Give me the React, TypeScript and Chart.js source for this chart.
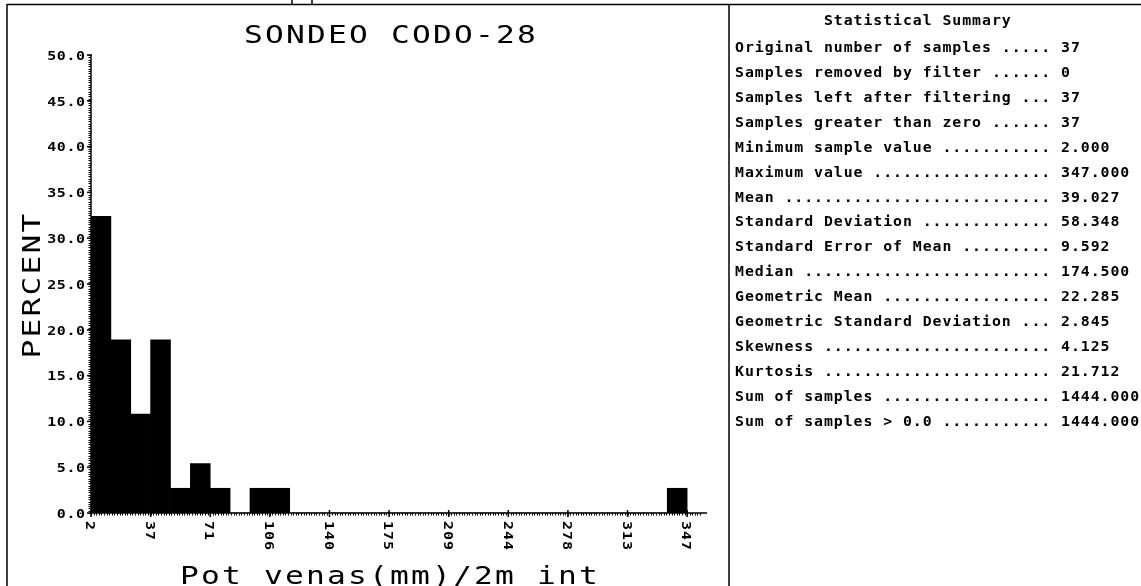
import { useEffect, useRef } from "react";
import { Chart, registerables } from "chart.js";

Chart.register(...registerables);

const MONO = '"DejaVu Sans Mono", "Liberation Mono", monospace';

const TITLE = "SONDEO CODO-28";
const Y_TITLE = "PERCENT";
const X_TITLE = "Pot venas(mm)/2m int";

// Histogram classes: 30 classes of equal width starting at the minimum sample value
const CLASS_START = 2;
const CLASS_WIDTH = 11.5;
const PERCENT = [
  32.4, 18.9, 10.8, 18.9, 2.7, 5.4, 2.7, 0.0, 2.7, 2.7,
  0.0, 0.0, 0.0, 0.0, 0.0, 0.0, 0.0, 0.0, 0.0, 0.0,
  0.0, 0.0, 0.0, 0.0, 0.0, 0.0, 0.0, 0.0, 0.0, 2.7,
];

const X_MIN = 2;
const X_MAX = 358.5;
const Y_MIN = 0;
const Y_MAX = 50;

const X_TICK_VALUES = [2, 36.5, 71, 105.5, 140, 174.5, 209, 243.5, 278, 312.5, 347];
const X_TICK_LABELS = ["2", "37", "71", "106", "140", "175", "209", "244", "278", "313", "347"];
const Y_TICK_VALUES = [0, 5, 10, 15, 20, 25, 30, 35, 40, 45, 50];
const Y_TICK_LABELS = ["0.0", "5.0", "10.0", "15.0", "20.0", "25.0", "30.0", "35.0", "40.0", "45.0", "50.0"];

const STATS_TITLE = "Statistical Summary";
const STAT_LABELS = [
  "Original number of samples",
  "Samples removed by filter",
  "Samples left after filtering",
  "Samples greater than zero",
  "Minimum sample value",
  "Maximum value",
  "Mean",
  "Standard Deviation",
  "Standard Error of Mean",
  "Median",
  "Geometric Mean",
  "Geometric Standard Deviation",
  "Skewness",
  "Kurtosis",
  "Sum of samples",
  "Sum of samples > 0.0",
];
const STAT_VALUES = [
  "37", "0", "37", "37", "2.000", "347.000", "39.027", "58.348", "9.592",
  "174.500", "22.285", "2.845", "4.125", "21.712", "1444.000", "1444.000",
];

const W = 1141;
const H = 586;

type MonoOpts = {
  size: number;
  weight?: string;
  cell: number;
  sx?: number;
  align?: "left" | "center" | "right";
  angle?: number;
};

// Draws a string in a fixed-pitch font where every character occupies `cell` pixels.
function drawMono(ctx: CanvasRenderingContext2D, text: string, x: number, y: number, o: MonoOpts) {
  const sx = o.sx ?? 1;
  const c = ctx as any;
  ctx.save();
  ctx.translate(x, y);
  if (o.angle) ctx.rotate(o.angle);
  ctx.scale(sx, 1);
  ctx.font = `${o.weight ?? "normal"} ${o.size}px ${MONO}`;
  c.letterSpacing = "0px";
  const adv = ctx.measureText("0").width;
  const spacing = o.cell / sx - adv;
  c.letterSpacing = `${spacing}px`;
  const width = text.length * adv + (text.length - 1) * spacing;
  let x0 = 0;
  if (o.align === "center") x0 = -width / 2;
  else if (o.align === "right") x0 = -width;
  ctx.textAlign = "left";
  ctx.textBaseline = "alphabetic";
  ctx.fillText(text, x0, 0);
  ctx.restore();
}

function seg(ctx: CanvasRenderingContext2D, x1: number, y1: number, x2: number, y2: number) {
  ctx.beginPath();
  ctx.moveTo(x1, y1);
  ctx.lineTo(x2, y2);
  ctx.stroke();
}

const CAP = 0.729;

const decorations = {
  id: "decorations",
  afterDraw(chart: Chart) {
    const ctx = chart.ctx;
    const xs = chart.scales.x;
    const ys = chart.scales.y;
    const left = xs.getPixelForValue(X_MIN);
    const right = xs.getPixelForValue(X_MAX);
    const base = ys.getPixelForValue(Y_MIN);
    const top = ys.getPixelForValue(Y_MAX);

    ctx.save();
    ctx.fillStyle = "#000";
    ctx.strokeStyle = "#000";

    // page frame and panel divider
    ctx.lineWidth = 1.5;
    seg(ctx, 7, 4.5, W, 4.5);
    seg(ctx, 7, 4, 7, H);
    seg(ctx, 729, 4, 729, H);
    seg(ctx, 292, 0, 292, 4.5);
    seg(ctx, 312, 0, 312, 4.5);

    // y axis with fine ticks
    ctx.lineWidth = 1.5;
    seg(ctx, left, top, left, base);
    ctx.lineWidth = 1;
    for (let v = Y_MIN; v <= Y_MAX + 1e-9; v += 0.25) {
      const py = Math.round(ys.getPixelForValue(v)) + 0.5;
      seg(ctx, left - 2.5, py, left, py);
    }
    ctx.lineWidth = 1.5;
    Y_TICK_VALUES.forEach((v) => {
      const py = ys.getPixelForValue(v);
      seg(ctx, left - 4, py, left + 1, py);
    });

    // x axis with fine ticks
    ctx.lineWidth = 1.5;
    seg(ctx, left, base, right, base);
    ctx.lineWidth = 1;
    for (let v = X_MIN; v <= X_MAX - 3; v += 1.5) {
      const px = Math.round(xs.getPixelForValue(v)) + 0.5;
      seg(ctx, px, base, px, base + 2.5);
    }
    ctx.lineWidth = 1.5;
    X_TICK_VALUES.forEach((v) => {
      const px = xs.getPixelForValue(v);
      seg(ctx, px, base - 3, px, base + 4);
    });

    // y tick labels
    const tickSize = 13;
    Y_TICK_VALUES.forEach((v, i) => {
      const py = ys.getPixelForValue(v);
      drawMono(ctx, Y_TICK_LABELS[i], left - 6, py + (tickSize * CAP) / 2, {
        size: tickSize, weight: "bold", cell: 9.6, sx: 1.15, align: "right",
      });
    });

    // x tick labels, turned to read downwards
    X_TICK_VALUES.forEach((v, i) => {
      const px = xs.getPixelForValue(v);
      drawMono(ctx, X_TICK_LABELS[i], px - (tickSize * CAP) / 2, base + 8, {
        size: tickSize, weight: "bold", cell: 10, sx: 1.15, align: "left", angle: Math.PI / 2,
      });
    });

    // titles
    const titleSize = 25;
    const titleOpts = { size: titleSize, weight: "normal", cell: 21, sx: 1.25, align: "center" as const };
    drawMono(ctx, TITLE, 390, 34 + (titleSize * CAP) / 2, titleOpts);
    drawMono(ctx, X_TITLE, 389, 584, titleOpts);
    drawMono(ctx, Y_TITLE, 40, 286, { ...titleOpts, angle: -Math.PI / 2 });

    // statistical summary panel
    const statSize = 13.5;
    const cell = 9.88;
    const x0 = 735;
    const statOpts = { size: statSize, weight: "bold", cell, sx: 1.1, align: "left" as const };
    drawMono(ctx, STATS_TITLE, x0 + 9 * cell, 20 + (statSize * CAP) / 2, statOpts);
    STAT_LABELS.forEach((label, i) => {
      const dots = ".".repeat(Math.max(0, 31 - label.length));
      const line = `${label} ${dots} ${STAT_VALUES[i]}`;
      drawMono(ctx, line, x0, 47 + i * 24.93 + (statSize * CAP) / 2, statOpts);
    });

    ctx.restore();
  },
};

export default function App() {
  const ref = useRef<HTMLCanvasElement>(null);

  useEffect(() => {
    const canvas = ref.current;
    if (!canvas) return;
    const data = PERCENT.map((p, i) => ({ x: CLASS_START + CLASS_WIDTH * (i + 0.5), y: p }));
    const chart = new Chart(canvas, {
      type: "bar",
      data: {
        datasets: [
          {
            data,
            backgroundColor: "#000",
            borderWidth: 0,
            barPercentage: 1,
            categoryPercentage: 1,
          },
        ],
      },
      options: {
        animation: false,
        responsive: false,
        maintainAspectRatio: false,
        devicePixelRatio: 1,
        layout: { padding: { left: 91, top: 55, right: W - 707, bottom: H - 513 } },
        plugins: {
          legend: { display: false },
          tooltip: { enabled: false },
          title: { display: false },
        },
        scales: {
          x: { type: "linear", min: X_MIN, max: X_MAX, offset: false, display: false },
          y: { type: "linear", min: Y_MIN, max: Y_MAX, display: false },
        },
      },
      plugins: [decorations],
    });
    return () => chart.destroy();
  }, []);

  return (
    <div style={{ position: "fixed", left: 0, top: 0, width: W, height: H, background: "#fff" }}>
      <canvas ref={ref} width={W} height={H} style={{ display: "block", width: W, height: H }} />
    </div>
  );
}
